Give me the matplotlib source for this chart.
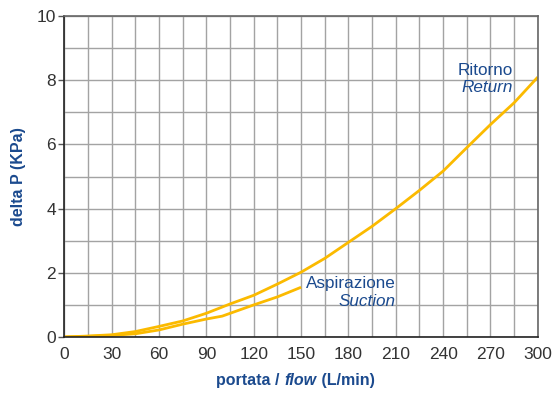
import matplotlib
matplotlib.use("Agg")
import matplotlib.pyplot as plt

plt.rcParams['font.family'] = ['Liberation Sans', 'DejaVu Sans']

# data
flow_return = [0, 15, 30, 45, 60, 75, 90, 105, 120, 135, 150, 165, 180, 195, 210, 225, 240, 255, 270, 285, 300]
dp_return = [0, 0.03, 0.07, 0.17, 0.33, 0.5, 0.74, 1.03, 1.3, 1.65, 2.02, 2.45, 2.95, 3.45, 4.0, 4.57, 5.17, 5.9, 6.62, 7.3, 8.1]

flow_suction = [0, 15, 30, 45, 60, 75, 90, 100, 120, 135, 150]
dp_suction = [0, 0.02, 0.05, 0.1, 0.22, 0.4, 0.56, 0.65, 1.0, 1.25, 1.55]

x_ticks = [0, 30, 60, 90, 120, 150, 180, 210, 240, 270, 300]
y_ticks = [0, 2, 4, 6, 8, 10]

yellow = "#FBBA00"
blue = "#1B4A8E"
grey = "#A3A3A3"

fig = plt.figure(figsize=(5.55, 3.93), dpi=100)
ax = fig.add_axes([0.116, 0.1425, 0.853, 0.8165])

ax.plot(flow_return, dp_return, color=yellow, lw=2, solid_capstyle='butt')
ax.plot(flow_suction, dp_suction, color=yellow, lw=2, solid_capstyle='butt')

ax.set_xlim(0, 300)
ax.set_ylim(0, 10)
ax.set_xticks(x_ticks)
ax.set_yticks(y_ticks)
ax.set_xticks(range(0, 301, 15), minor=True)
ax.set_yticks(range(0, 11), minor=True)
ax.grid(which='both', color=grey, lw=1)
ax.set_axisbelow(True)
ax.tick_params(axis='x', which='both', length=0, labelsize=12.5, labelcolor='#333333', pad=7)
ax.tick_params(axis='y', which='major', length=4, width=1, color='#555555',
               labelsize=12.5, labelcolor='#333333', pad=2)
ax.tick_params(axis='y', which='minor', length=0)

for side in ['left', 'bottom']:
    ax.spines[side].set_color('#222222')
    ax.spines[side].set_linewidth(1.2)
for side in ['top', 'right']:
    ax.spines[side].set_color('#666666')
    ax.spines[side].set_linewidth(1.2)

ax.set_ylabel("delta P (KPa)", color=blue, fontsize=11.5, fontweight='bold', labelpad=8)

# x label with italic "flow"
t1 = fig.text(0.39, 0.02, "portata / ", color=blue, fontsize=11.5, fontweight='bold')
t2 = ax.annotate("flow", xy=(1, 0), xycoords=t1, va='bottom', color=blue,
                 fontsize=11.5, fontweight='bold', fontstyle='italic')
ax.annotate(" (L/min)", xy=(1, 0), xycoords=t2, va='bottom', color=blue,
            fontsize=11.5, fontweight='bold')

# curve labels
ax.text(284, 8.32, "Ritorno", color=blue, fontsize=12.3, ha='right', va='center')
ax.text(284, 7.76, "Return", color=blue, fontsize=12.3, ha='right', va='center', fontstyle='italic')
ax.text(210, 1.68, "Aspirazione", color=blue, fontsize=12.3, ha='right', va='center')
ax.text(210, 1.12, "Suction", color=blue, fontsize=12.3, ha='right', va='center', fontstyle='italic')

fig.savefig("out.png", dpi=100)
